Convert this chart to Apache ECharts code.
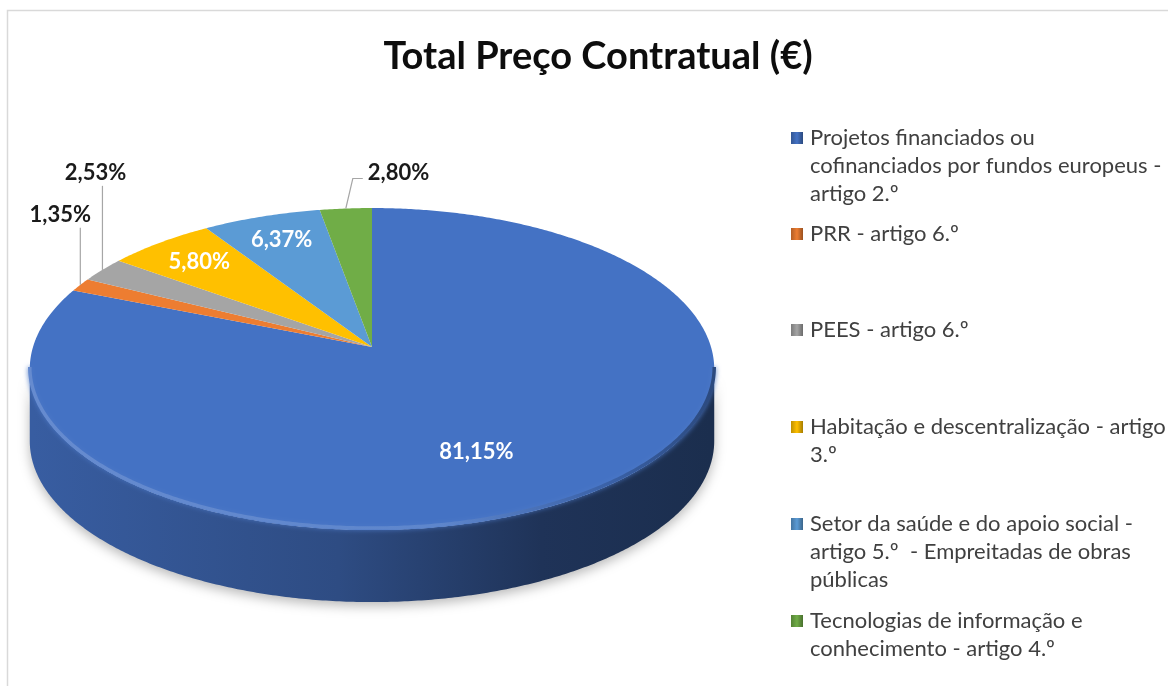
<!DOCTYPE html>
<html>
<head>
<meta charset="utf-8">
<title>Total Preço Contratual (€)</title>
<script src="https://cdn.jsdelivr.net/npm/echarts@6/dist/echarts.min.js"></script>
<style>
  html, body { margin: 0; padding: 0; background: #fff; }
  #main { width: 1168px; height: 686px; }
</style>
</head>
<body>
<div id="main"></div>
<script>
// dados
var categories = [
  'Projetos financiados ou\ncofinanciados por fundos europeus -\nartigo 2.º',
  'PRR - artigo 6.º',
  'PEES - artigo 6.º',
  'Habitação e descentralização - artigo\n3.º',
  'Setor da saúde e do apoio social -\nartigo 5.º  - Empreitadas de obras\npúblicas',
  'Tecnologias de informação e\nconhecimento - artigo 4.º'
];
var shares = [81.15, 1.35, 2.53, 5.80, 6.37, 2.80];
var colors = ['#4472C4', '#ED7D31', '#A5A5A5', '#FFC000', '#5B9BD5', '#70AD47'];

// geometria do "bolo" 3D (perspectiva simples)
var CX = 372, CY = 347, RX = 339, RY = 158, P = 0.137, DEPTH = 72;
var FONT = 'Lato, "Open Sans", sans-serif';

// posições dos rótulos (estilo, não dados)
var labelLayout = [
  { inside: true, r: 0.67, dAngle: 9 },
  { inside: false, dx: -20, dy: -70 },
  { inside: false, dx: -7, dy: -97 },
  { inside: true, r: 0.8 },
  { inside: true, r: 0.8 },
  { inside: false, dx: 22, dy: -36, elbow: true }
];
// centro da 1ª linha de cada entrada da legenda
var legendRows = [138, 234, 330, 427, 524, 621];

var total = shares.reduce(function (a, b) { return a + b; }, 0);

function proj(theta, r, dz) {
  var u = Math.sin(theta) * r, v = -Math.cos(theta) * r;
  var s = 1 / (1 - P * v);
  return [CX + RX * u * s, CY + RY * v * s + (dz || 0)];
}
function arc(a0, a1, dz) {
  var pts = [], n = Math.max(2, Math.ceil(Math.abs(a1 - a0) / (Math.PI / 360)));
  for (var k = 0; k <= n; k++) pts.push(proj(a0 + (a1 - a0) * k / n, 1, dz));
  return pts;
}
function fmt(v) { return v.toFixed(2).replace('.', ',') + '%'; }
// l > 0 escurece (mistura com preto), l < 0 clareia (mistura com branco)
function shade(c, l) {
  var a = echarts.color.parse(c);
  var out = [0, 1, 2].map(function (k) {
    var v = l >= 0 ? a[k] * (1 - l) : a[k] + (255 - a[k]) * -l;
    return Math.round(v);
  });
  return 'rgb(' + out.join(',') + ')';
}

// faixa visível da parede lateral
var SIL = Math.acos(-P);
var VIS0 = SIL, VIS1 = 2 * Math.PI - SIL;

function renderItem(params, api) {
  var i = params.dataIndex;
  var before = 0;
  for (var k = 0; k < i; k++) before += shares[k];
  var a0 = before / total * 2 * Math.PI;
  var a1 = (before + api.value(0)) / total * 2 * Math.PI;
  var color = colors[i];
  var children = [];

  // parede lateral
  var s0 = Math.max(a0, VIS0), s1 = Math.min(a1, VIS1);
  if (s1 > s0) {
    var side = arc(s0, s1, 0).concat(arc(s1, s0, DEPTH));
    children.push({
      type: 'polygon', z2: 1,
      shape: { points: side },
      style: {
        fill: {
          type: 'linear', global: true, x: CX - RX, y: 0, x2: CX + RX, y2: 0,
          colorStops: [
            { offset: 0, color: shade(color, 0.18) },
            { offset: 0.45, color: shade(color, 0.33) },
            { offset: 0.75, color: shade(color, 0.55) },
            { offset: 1, color: shade(color, 0.6) }
          ]
        },
        shadowBlur: 12, shadowOffsetY: 4, shadowColor: 'rgba(0,0,0,0.28)'
      }
    });
    // brilho na borda superior
    children.push({
      type: 'polyline', z2: 6,
      shape: { points: arc(s0, s1, -2) },
      style: {
        fill: null, lineWidth: 3.5,
        stroke: {
          type: 'linear', global: true, x: CX - RX, y: 0, x2: CX + RX, y2: 0,
          colorStops: [
            { offset: 0, color: shade(color, -0.18) },
            { offset: 0.6, color: shade(color, -0.14) },
            { offset: 0.85, color: shade(color, 0.15) },
            { offset: 1, color: shade(color, 0.35) }
          ]
        },
        shadowBlur: 5, shadowColor: shade(color, -0.05)
      }
    });
  }

  // face superior
  children.push({
    type: 'polygon', z2: 5,
    shape: { points: [[CX, CY]].concat(arc(a0, a1, 0)) },
    style: { fill: color }
  });

  // rótulo
  var L = labelLayout[i];
  var mid = (a0 + a1) / 2;
  if (L.inside) {
    var p = proj(mid + (L.dAngle || 0) * Math.PI / 180, L.r, 0);
    children.push({
      type: 'text', z2: 10,
      style: {
        text: fmt(api.value(0)), x: p[0], y: p[1], align: 'center', verticalAlign: 'middle',
        fill: '#fff', font: 'bold 22px ' + FONT
      }
    });
  } else {
    var rim = proj(mid, 1, 0);
    var lx = rim[0] + L.dx, ly = rim[1] + L.dy;
    var pts = L.elbow
      ? [rim, [rim[0] + 7, ly + 6], [lx - 5, ly + 6]]
      : [rim, [rim[0], ly + 13]];
    children.push({
      type: 'polyline', z2: 9,
      shape: { points: pts },
      style: { fill: null, stroke: '#a6a6a6', lineWidth: 1.2 }
    });
    children.push({
      type: 'text', z2: 10,
      style: {
        text: fmt(api.value(0)), x: lx, y: ly,
        align: L.elbow ? 'left' : 'center', verticalAlign: 'middle',
        fill: '#1a1a1a', font: 'bold 22px ' + FONT
      }
    });
  }
  return { type: 'group', children: children };
}

// legenda desenhada à mão (itens com várias linhas)
var legendGraphics = categories.map(function (name, i) {
  return {
    type: 'group', x: 791, y: legendRows[i] - 6,
    children: [
      {
        type: 'rect', shape: { x: 0, y: 0, width: 12, height: 12 },
        style: {
          fill: {
            type: 'linear', x: 0, y: 0, x2: 1, y2: 0,
            colorStops: [
              { offset: 0, color: shade(colors[i], 0.25) },
              { offset: 0.5, color: colors[i] },
              { offset: 1, color: shade(colors[i], 0.35) }
            ]
          }
        }
      },
      {
        type: 'text', x: 19, y: -8,
        style: { text: name, fill: '#404040', font: '22px ' + FONT, lineHeight: 28, verticalAlign: 'top' }
      }
    ]
  };
});

var chart = echarts.init(document.getElementById('main'), null, { renderer: 'canvas' });
chart.setOption({
  animation: false,
  backgroundColor: '#ffffff',
  title: {
    text: 'Total Preço Contratual (€)',
    left: 593, top: 33, textAlign: 'center',
    textStyle: { fontFamily: FONT, fontWeight: 'bold', fontSize: 38, color: '#0d0d0d' }
  },
  graphic: [
    {
      type: 'rect', silent: true, z: -10,
      shape: { x: 7.5, y: 10.5, width: 1300, height: 800 },
      style: { fill: null, stroke: '#d9d9d9', lineWidth: 1.5 }
    }
  ].concat(legendGraphics),
  series: [{
    type: 'custom',
    coordinateSystem: 'none',
    renderItem: renderItem,
    data: shares.map(function (v, i) { return { name: categories[i], value: v }; })
  }]
});
</script>
</body>
</html>
